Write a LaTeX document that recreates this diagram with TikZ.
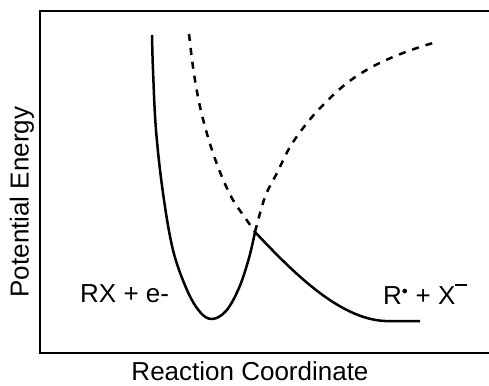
\documentclass[tikz,border=0pt]{standalone}
\usepackage{fontspec}
\setmainfont{Liberation Sans}
\usepackage{tikz}
\usetikzlibrary{positioning, calc}
\tikzset{
  curvesolid/.style={line width=2.5pt, line join=round},
  curvedash/.style={line width=2.5pt, dash pattern=on 7pt off 7pt}
}

\begin{document}
\begin{tikzpicture}[x=1pt, y=-1pt, font=\fontsize{26}{31}\selectfont]
        \useasboundingbox (0,0) rectangle (489,385);
        \draw[line width=2.6pt] (500,11) -- (40,11) -- (40,353) -- (500,353);
        \coordinate (cross) at (255,232);
        \coordinate (flat) at (385,321);

        % RX + e- curve
        \draw[curvesolid] plot[smooth, tension=0.6] coordinates {(152,35) (153,70) (156,130) (163,193) (173,250) (187,290) (200,312) (212,319) (226,311) (239,288) (249,258) (cross)};
        \draw[curvedash] plot[smooth, tension=0.6] coordinates {(cross) (265,197) (277,173) (290,147) (307,123) (325,103) (347,83) (370,68) (393,57) (417,48) (433,43)};

        % R + X- curve
        \draw[curvedash] plot[smooth, tension=0.6] coordinates {(189,34) (193,67) (198,97) (204,123) (212,150) (222,177) (233,200) (246,219) (cross)};
        \draw[curvesolid] (cross) .. controls (290,269) and (338,319) .. (flat) -- (420,321);

        \node[anchor=west, inner sep=0] (reac) at (80,294) {RX + e-};
        \node[anchor=west, inner sep=0] (prod) at (383,294) {R$^{\scriptscriptstyle\bullet}$ + X\rule[18pt]{12pt}{2pt}};

        \node[rotate=90] (ylab) at (22,202) {Potential Energy};
        \node[inner sep=0] (xlab) at (250,371) {Reaction Coordinate};
    \end{tikzpicture}
\end{document}
